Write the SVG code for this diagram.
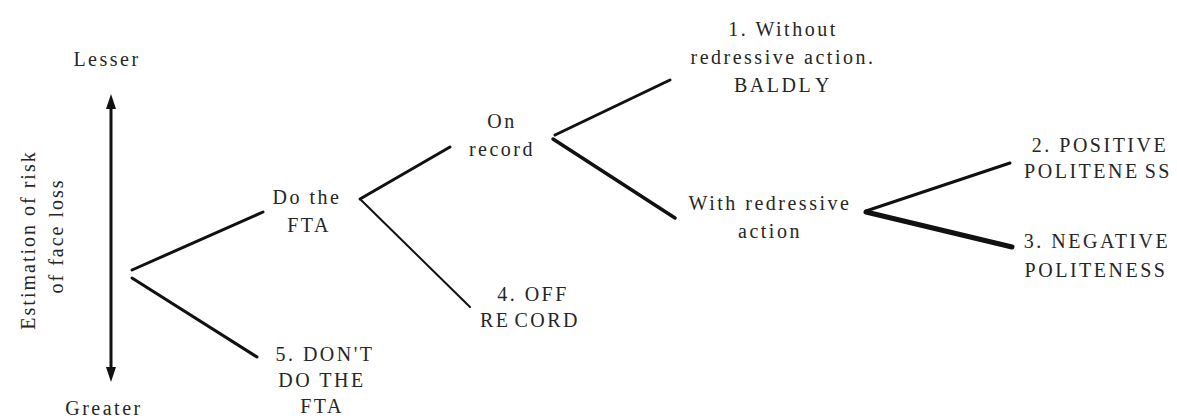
<svg xmlns="http://www.w3.org/2000/svg" width="1177" height="419" viewBox="0 0 1177 419">
<style>
.t{font-family:'Liberation Serif','Times New Roman','DejaVu Serif',serif;font-size:20px;fill:#262626;letter-spacing:2.5px;text-anchor:middle}
.v{letter-spacing:2px}
.c{stroke:#111;fill:none;stroke-linecap:round}
</style>
<defs>
<marker id="ah" markerUnits="userSpaceOnUse" markerWidth="16" markerHeight="12" viewBox="0 0 16 12" refX="8" refY="6" orient="auto-start-reverse">
<path d="M0,1 L15,6 L0,11 z" fill="#111"/>
</marker>
</defs>
<rect width="1177" height="419" fill="#fff"/>
<g id="axis">
<line x1="111" y1="101" x2="111" y2="375" stroke="#111" stroke-width="3" marker-start="url(#ah)" marker-end="url(#ah)"/>
<text class="t" x="107" y="66">Lesser</text>
<text class="t" x="104" y="415">Greater</text>
<text class="t v" transform="translate(35,240) rotate(-90)">Estimation of risk</text>
<text class="t v" transform="translate(63,236) rotate(-90)">of face loss</text>
</g>
<g id="connectors">
<line class="c" x1="132" y1="270" x2="263" y2="212" stroke-width="3"/>
<line class="c" x1="132" y1="278" x2="257" y2="357" stroke-width="3"/>
<line class="c" x1="360" y1="199" x2="450" y2="147" stroke-width="3"/>
<line class="c" x1="360" y1="199" x2="470" y2="307" stroke-width="2"/>
<line class="c" x1="555" y1="135" x2="670" y2="80" stroke-width="3"/>
<line class="c" x1="553" y1="139" x2="675" y2="218" stroke-width="3.5"/>
<line class="c" x1="866" y1="211" x2="1010" y2="163" stroke-width="3"/>
<line class="c" x1="866" y1="212" x2="1012" y2="247" stroke-width="5"/>
</g>
<g id="do-fta">
<text class="t" x="307" y="204">Do the</text>
<text class="t" x="309" y="232">FTA</text>
</g>
<g id="dont-fta">
<text class="t" x="325" y="361">5. DON'T</text>
<text class="t" x="322" y="387">DO THE</text>
<text class="t" x="322" y="413">FTA</text>
</g>
<g id="on-record">
<text class="t" x="502" y="128">On</text>
<text class="t" x="502" y="156">record</text>
</g>
<g id="off-record">
<text class="t" x="533" y="301">4. OFF</text>
<text class="t" x="530" y="327">RE<tspan dx="4">CORD</tspan></text>
</g>
<g id="baldly">
<text class="t" x="783" y="36">1. Without</text>
<text class="t" x="783" y="64">redressive action.</text>
<text class="t" x="783" y="92">BALDL<tspan dx="4">Y</tspan></text>
</g>
<g id="redressive">
<text class="t" x="770" y="210">With redressive</text>
<text class="t" x="770" y="238">action</text>
</g>
<g id="positive">
<text class="t" x="1100" y="152">2. POSITIVE</text>
<text class="t" x="1098" y="178">POLITENE<tspan dx="5">SS</tspan></text>
</g>
<g id="negative">
<text class="t" x="1097" y="248">3. NEGATIVE</text>
<text class="t" x="1096" y="277">POLITENESS</text>
</g>
</svg>
